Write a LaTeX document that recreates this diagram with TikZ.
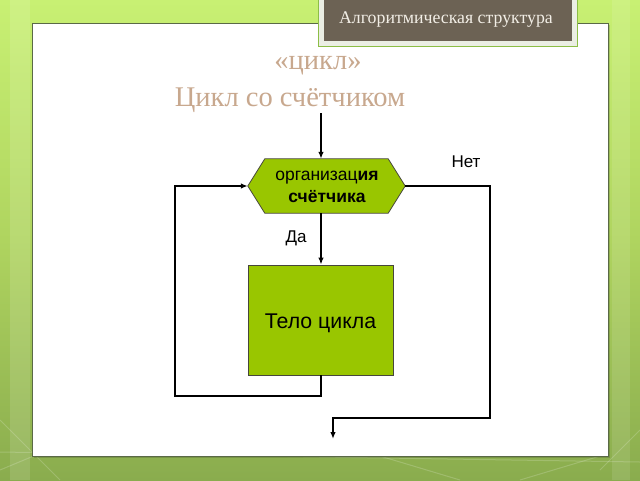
\documentclass[tikz,border=0pt]{standalone}
\usepackage{fontspec}
\setmainfont{Liberation Serif}
\newfontfamily\diagfont{Liberation Sans}
\usetikzlibrary{arrows.meta,calc}
\definecolor{bgtop}{RGB}{200,240,115}
\definecolor{bgbot}{RGB}{138,172,78}
\definecolor{panelline}{RGB}{90,105,70}
\definecolor{titlebox}{RGB}{108,98,84}
\definecolor{titletext}{RGB}{242,238,230}
\definecolor{tan}{RGB}{200,168,142}
\definecolor{blockgreen}{RGB}{153,198,0}
\definecolor{blockline}{RGB}{70,70,60}
\definecolor{framegreen}{RGB}{140,190,70}
\tikzset{
  flow/.style={line width=2pt, black},
  arr/.style={flow, -{Latex[length=7pt,width=5.5pt]}},
  blocktext/.style={font=\diagfont\fontsize{17.5pt}{22pt}\selectfont, align=center, text=black},
  lbl/.style={font=\diagfont\fontsize{17pt}{20pt}\selectfont, text=black},
  hexbox/.style={minimum width=157pt, minimum height=54pt, inner sep=0pt},
  bodybox/.style={draw=blockline, line width=0.8pt, fill=blockgreen, minimum width=145pt, minimum height=110pt, inner sep=0pt},
  bodytext/.style={font=\diagfont\fontsize{21.3pt}{25pt}\selectfont, text=black},
  faint/.style={white, opacity=0.18, line width=1pt}
}
\begin{document}
\begin{tikzpicture}[x=1pt,y=-1pt]
\useasboundingbox (0,0) rectangle (640,480);
% background
\shade[top color=bgtop, bottom color=bgbot, middle color={rgb,255:red,175;green,212;blue,95}] (0,0) rectangle (640,480);
\fill[white, opacity=0.12] (10,0) rectangle (30,480);
\fill[white, opacity=0.10] (612,0) rectangle (630,480);
\draw[faint] (0,420) -- (60,480);
\draw[faint] (0,470) -- (120,420);
\draw[faint] (380,456) -- (460,480);
\draw[faint] (520,480) -- (600,456);
\draw[faint] (600,470) -- (640,430);
\draw[faint] (0,452) -- (640,462);
% white panel
\fill[black, opacity=0.15] (34,25) rectangle (610,458);
\draw[panelline, line width=1pt, fill=white] (32,23) rectangle (608,456);
% title box
\draw[framegreen, line width=0.8pt, fill={rgb,255:red,235;green,238;blue,228}] (318,-5) rectangle (577,46);
\fill[titlebox] (324,-2) rectangle (572,41);
\node[font=\fontsize{17.8pt}{20pt}\selectfont, text=titletext] (boxtitle) at (446,20) {Алгоритмическая структура};
% heading
\node[font=\fontsize{28.5pt}{32pt}\selectfont, text=tan] (h1) at (318,66) {«цикл»};
\node[font=\fontsize{28.5pt}{32pt}\selectfont, text=tan] (h2) at (290,100) {Цикл со счётчиком};
% hexagon
\node[hexbox] (hex) at (326.5,186) {};
\draw[blockline, line width=0.8pt, fill=blockgreen]
  (hex.west) -- ($(hex.north west)+(17,0)$) -- ($(hex.north east)+(-17,0)$) -- (hex.east)
  -- ($(hex.south east)+(-17,0)$) -- ($(hex.south west)+(17,0)$) -- cycle;
\node[blocktext] (hextext) at (327,186.5) {организац\textbf{ия}\\\textbf{счётчика}};
% body
\node[bodybox] (body) at (320.5,320) {};
\node[bodytext] (bodytxt) at (320.5,323) {Тело цикла};
% coordinates
\coordinate (top) at (321,113);
\coordinate (loopBL) at (175,396);
\coordinate (exitR) at (490,418);
\coordinate (endpt) at (333,439);
% connectors
\draw[arr] (top) -- (top |- hex.north);
\draw[arr] (top |- hex.south) -- (top |- body.north);
\draw[arr] (top |- body.south) -- (top |- loopBL) -- (loopBL) |- (hex.west);
\draw[arr] (hex.east) -- (hex.east -| exitR) -- (exitR) -| (endpt);
% labels
\node[lbl] (yes) at (296,238) {Да};
\node[lbl] (no) at (466,162) {Нет};
\end{tikzpicture}
\end{document}
